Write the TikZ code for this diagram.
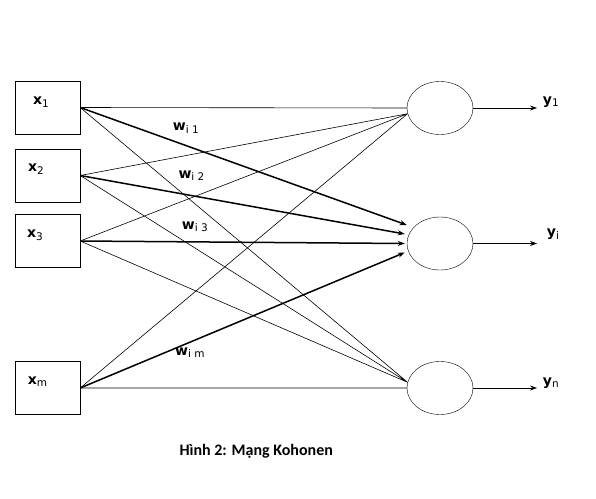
\documentclass[tikz,border=0pt]{standalone}
\usepackage{fontspec}
\usepackage{tikz}
\usetikzlibrary{arrows.meta,shapes.geometric}
\newfontfamily\lblfont{DejaVu Sans}
\newfontfamily\capfont{Carlito}
\newcommand{\thinw}{.6pt}
\newcommand{\thickw}{1.5pt}
\newcommand{\lowtxt}[1]{\raisebox{-.35ex}{\fontsize{10.5}{12}\selectfont\mdseries #1}}
\tikzset{
  inbox/.style={draw, rectangle, minimum width=65pt, minimum height=53pt, inner sep=0pt},
  neuron/.style={draw, ellipse, minimum width=66pt, minimum height=53pt, inner sep=0pt},
  lbl/.style={anchor=base west, inner sep=0pt, font=\lblfont\bfseries\fontsize{14}{16}\selectfont},
  tip/.style={-{Stealth[length=7pt,width=5pt]}}
}

\begin{document}
\begin{tikzpicture}[x=1pt,y=-1pt]
\useasboundingbox (0,0) rectangle (596,498);

\node (x1) at (47.5,107.5) [inbox] {};
\node (x2) at (47.5,175.5) [inbox] {};
\node (x3) at (47.5,241) [inbox] {};
\node (xm) at (47.5,388) [inbox] {};

\node (y1) at (440,108) [neuron] {};
\node (yi) at (440,243.5) [neuron] {};
\node (yn) at (440,388) [neuron] {};

\node (lx1) at (33,104.5) [lbl] {x\lowtxt{1}};
\node (lx2) at (28,171.7) [lbl] {x\lowtxt{2}};
\node (lx3) at (27,237.7) [lbl] {x\lowtxt{3}};
\node (lxm) at (27.7,384) [lbl] {x\lowtxt{m}};

%thin connections
\draw[line width=\thinw]
(x1.east) to (y1.west)
(x1.east) to (yn.170)
(x2.east) to (y1.190)
(x2.east) to (yn.170)
(x3.east) to (y1.190)
(x3.east) to (yn.170)
(xm.east) to (y1.190)
(xm.east) to (yn.west);

%heavy weights into the winner
\coordinate (t1) at ([shift={(0,-18.5)}]yi.west);
\coordinate (t2) at ([shift={(-2,-9.5)}]yi.west);
\coordinate (t3) at ([shift={(-2,0)}]yi.west);
\coordinate (t4) at ([shift={(-2,9)}]yi.west);
\draw[line width=\thickw, tip] (x1.east) to (t1);
\draw[line width=\thickw, tip] (x2.east) to (t2);
\draw[line width=\thickw, tip] (x3.east) to (t3);
\draw[line width=\thickw, tip] (xm.east) to (t4);

\node (w1) at (172.7,130.7) [lbl] {w\lowtxt{i 1}};
\node (w2) at (178.3,178.3) [lbl] {w\lowtxt{i 2}};
\node (w3) at (181.7,229.3) [lbl] {w\lowtxt{i 3}};
\node (wm) at (175,355) [lbl] {w\lowtxt{i m}};

%outputs
\coordinate (o1) at (537,108);
\coordinate (oi) at (537,243.5);
\coordinate (on) at (537,388);
\draw[line width=\thinw, tip] (y1.east) to (o1);
\draw[line width=\thinw, tip] (yi.east) to (oi);
\draw[line width=\thinw, tip] (yn.east) to (on);

\node (ly1) at (542.7,104) [lbl] {y\lowtxt{1}};
\node (lyi) at (546.7,236.5) [lbl] {y\lowtxt{i}};
\node (lyn) at (542.7,385) [lbl] {y\lowtxt{n}};

\node (cap) at (179.3,455.7) [anchor=base west, inner sep=0pt, font=\capfont\bfseries\fontsize{16}{18}\selectfont] {Hình 2: Mạng Kohonen};

\end{tikzpicture}
\end{document}
